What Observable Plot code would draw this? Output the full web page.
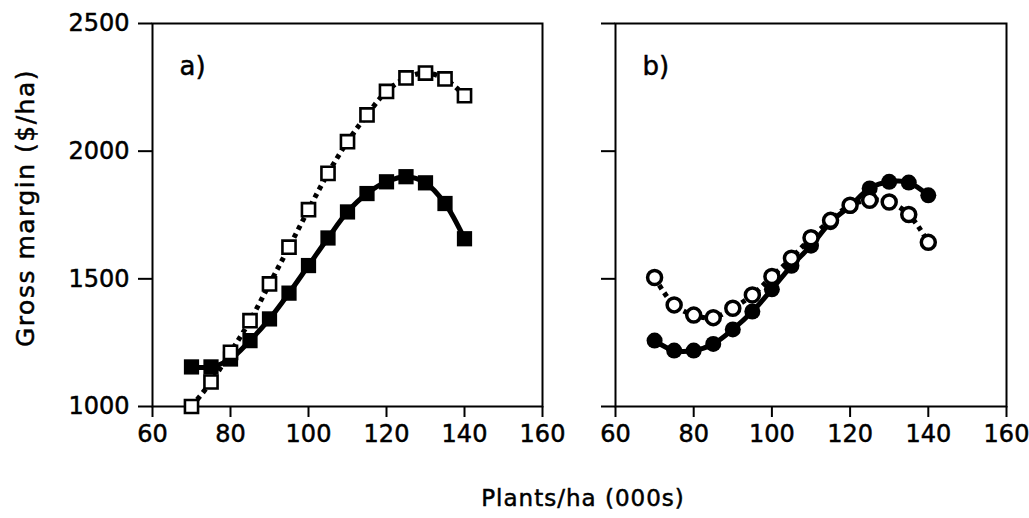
<!DOCTYPE html>
<html>
<head>
<meta charset="utf-8">
<script src="https://cdn.jsdelivr.net/npm/d3@7"></script>
<script src="https://cdn.jsdelivr.net/npm/@observablehq/plot@0.6"></script>
<style>
  html, body { margin: 0; padding: 0; background: #fff; }
  #wrap { position: relative; width: 1029px; height: 518px; overflow: hidden; background: #fff; font-family: "DejaVu Sans", sans-serif; }
  #wrap > .panel { position: absolute; top: 0; }
  #wrap svg { overflow: visible; }
  #wrap svg text { stroke: #000; stroke-width: 0.5px; }
  #ylab { position: absolute; left: 25px; top: 208px; transform: translate(-50%, -50%) rotate(-90deg); white-space: nowrap; font-size: 25px; letter-spacing: 1.5px; color: #000; -webkit-text-stroke: 0.5px #000; }
  #xlab { position: absolute; left: 583px; top: 485px; transform: translateX(-50%); white-space: nowrap; font-size: 23px; letter-spacing: 1px; color: #000; -webkit-text-stroke: 0.5px #000; }
</style>
</head>
<body>
<div id="wrap">
  <div class="panel" id="pa" style="left:0px"></div>
  <div class="panel" id="pb" style="left:580px"></div>
  <div id="ylab">Gross margin ($/ha)</div>
  <div id="xlab">Plants/ha (000s)</div>
</div>
<script>
// Plant density (000s plants/ha)
const density = [70, 75, 80, 85, 90, 95, 100, 105, 110, 115, 120, 125, 130, 135, 140];
// Panel a) gross margin ($/ha)
const aOpen   = [1000, 1096, 1212, 1336, 1480, 1624, 1771, 1913, 2037, 2142, 2234, 2287, 2306, 2283, 2217];
const aFilled = [1155, 1155, 1186, 1258, 1343, 1444, 1552, 1660, 1762, 1834, 1880, 1900, 1876, 1795, 1657];
// Panel b) gross margin ($/ha)
const bOpen   = [1505, 1398, 1358, 1348, 1385, 1437, 1509, 1581, 1661, 1729, 1788, 1808, 1801, 1752, 1643];
const bFilled = [1258, 1219, 1219, 1245, 1302, 1372, 1459, 1551, 1630, 1722, 1785, 1854, 1880, 1877, 1827];
// Axes
const xTicks = [60, 80, 100, 120, 140, 160];
const yTicks = [1000, 1500, 2000, 2500];
const panelLabels = ["a)", "b)"];

const rows = (vals) => density.map((d, i) => ({x: d, y: vals[i]}));

function panel({openVals, filledVals, symbol, label, width, marginLeft, marginRight, showYLabels}) {
  const openData = rows(openVals);
  const filledData = rows(filledVals);
  const isSquare = symbol === "square";
  return Plot.plot({
    width, height: 518,
    marginLeft, marginRight, marginTop: 23, marginBottom: 112,
    style: {fontFamily: "DejaVu Sans, sans-serif", fontSize: "24px", background: "transparent", color: "black", overflow: "visible"},
    x: {domain: [60, 160], label: null},
    y: {domain: [1000, 2500], label: null},
    marks: [
      Plot.frame({stroke: "black", strokeWidth: 2}),
      Plot.axisY(yTicks, {tickSize: 14, tickPadding: 9, strokeWidth: 2, fontSize: 24, label: null,
        tickFormat: showYLabels ? (d => String(d)) : (() => "")}),
      Plot.axisX(xTicks, {tickSize: 11, tickPadding: 7, strokeWidth: 2, fontSize: 24, label: null}),
      Plot.line(filledData, {x: "x", y: "y", stroke: "black", strokeWidth: 5, curve: "catmull-rom"}),
      Plot.dot(filledData, {x: "x", y: "y", symbol, r: isSquare ? 8.6 : 8, fill: "black", stroke: "none"}),
      Plot.line(openData, {x: "x", y: "y", stroke: "black", strokeWidth: 5, strokeLinecap: "butt",
        strokeDasharray: "4.5 4.5", curve: "catmull-rom"}),
      Plot.dot(openData, {x: "x", y: "y", symbol, r: isSquare ? 7.4 : 7, fill: "white", stroke: "black",
        strokeWidth: isSquare ? 2.6 : 3.5}),
      Plot.text([label], {frameAnchor: "top-left", text: d => d, dx: 27, dy: 43, textAnchor: "start",
        lineAnchor: "middle", fontSize: 26, fill: "black"})
    ]
  });
}

document.getElementById("pa").appendChild(panel({
  openVals: aOpen, filledVals: aFilled, symbol: "square", label: panelLabels[0],
  width: 580, marginLeft: 152, marginRight: 38, showYLabels: true
}));
document.getElementById("pb").appendChild(panel({
  openVals: bOpen, filledVals: bFilled, symbol: "circle", label: panelLabels[1],
  width: 449, marginLeft: 35, marginRight: 23, showYLabels: false
}));
</script>
</body>
</html>
